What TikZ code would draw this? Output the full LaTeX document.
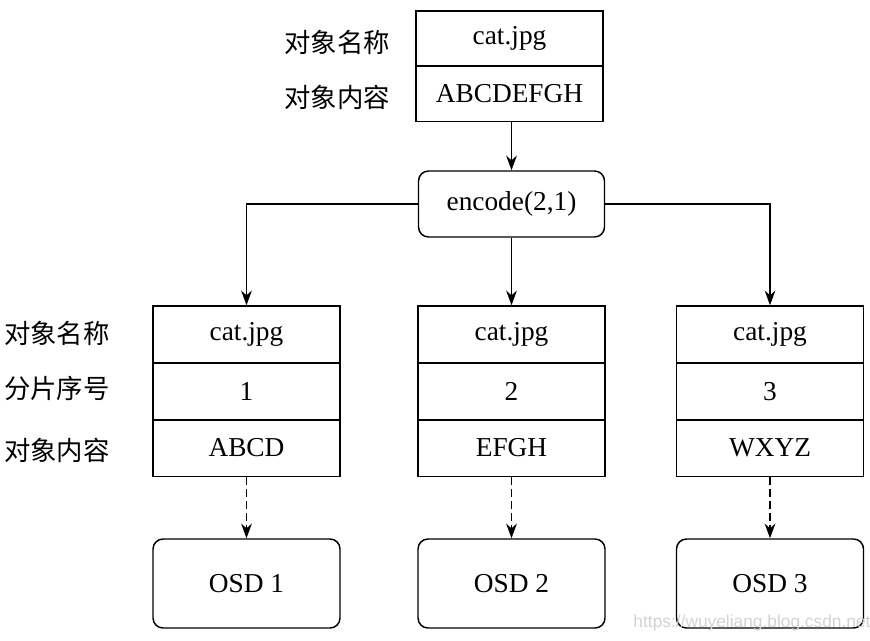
\documentclass[tikz,border=0pt]{standalone}
\usepackage{fontspec}
\setmainfont{Liberation Serif}
\newfontfamily\cjk{Noto Sans CJK SC}
\newfontfamily\wmfont{Liberation Sans}
\usetikzlibrary{arrows.meta}
\begin{document}
\begin{tikzpicture}[x=0.75pt,y=-0.75pt,
  cell/.style={draw,line width=1.1pt,minimum width=140.25pt,minimum height=42.75pt,inner sep=0pt,font=\fontsize{20.5}{24}\selectfont},
  tcell/.style={cell,minimum height=41.5pt},
  rbox/.style={draw,line width=1.1pt,rounded corners=7.5pt,minimum width=139.5pt,inner sep=0pt,font=\fontsize{20.5}{24}\selectfont},
  lab/.style={font=\cjk\fontsize{19.8}{22}\selectfont,inner sep=0pt},
  arr/.style={line width=1.1pt,-{Stealth[length=11pt,width=8pt]}},
  darr/.style={arr,dash pattern=on 5.5pt off 3.5pt}]
\useasboundingbox (0,0) rectangle (870,641);
% top object
\node[tcell] (t1) at (509.5,38.5) {cat.jpg};
\node[tcell] (t2) at (509.5,94) {ABCDEFGH};
\node[lab] (tl1) at (337,42) {对象名称};
\node[lab] (tl2) at (337,97) {对象内容};
% encode
\node[rbox,minimum height=49.5pt] (enc) at (511.5,204) {encode(2,1)};
% chunks
\foreach \i/\x/\n/\c in {1/246.5/1/ABCD,2/511.5/2/EFGH,3/770/3/WXYZ}{
  \node[cell] (b\i a) at (\x,334.5) {cat.jpg};
  \node[cell] (b\i b) at (\x,391.5) {\n};
  \node[cell] (b\i c) at (\x,448) {\c};
  \node[rbox,minimum width=140.25pt,minimum height=66.75pt] (o\i) at (\x,583.5) {OSD \n};
  \draw[darr] (b\i c.south) -- (o\i.north);
}
\node[lab] (l1) at (57,333) {对象名称};
\node[lab] (l2) at (57,388) {分片序号};
\node[lab] (l3) at (57,450) {对象内容};
% connectors
\draw[arr] (t2.south -| enc.north) -- (enc.north);
\draw[arr] (enc.west) -| (b1a.north);
\draw[arr] (enc.south) -- (b2a.north);
\draw[arr] (enc.east) -| (b3a.north);
% watermark
\node[font=\wmfont\fontsize{13}{15}\selectfont,text=gray!35,inner sep=0pt] (wm) at (752,623) {https://wuyeliang.blog.csdn.net};
\end{tikzpicture}
\end{document}
